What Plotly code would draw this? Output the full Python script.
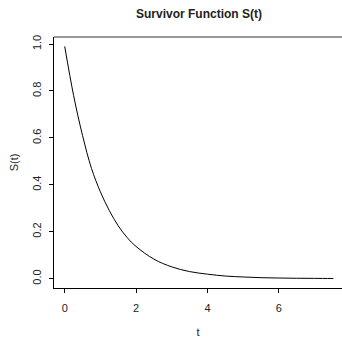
import plotly.graph_objects as go

# Survivor function values S(t) at selected times t
t_vals = [0.0, 0.25, 0.5, 0.75, 1.0, 1.25, 1.5, 1.75, 2.0, 2.5, 3.0, 3.5,
          4.0, 4.5, 5.0, 5.5, 6.0, 6.5, 7.0, 7.53]
s_vals = [0.99, 0.78, 0.61, 0.47, 0.37, 0.29, 0.225, 0.175, 0.137, 0.083, 0.05, 0.03,
          0.019, 0.011, 0.007, 0.004, 0.0025, 0.0015, 0.001, 0.0006]

x_ticks = [0, 2, 4, 6]
y_ticks = [0.0, 0.2, 0.4, 0.6, 0.8, 1.0]

FONT = "Liberation Sans, Arial, sans-serif"

fig = go.Figure()
fig.add_trace(go.Scatter(
    x=t_vals, y=s_vals, mode="lines",
    line=dict(color="black", width=1, shape="spline"),
    hoverinfo="skip", showlegend=False,
))

fig.update_layout(
    width=342, height=338,
    margin=dict(l=54, r=0, t=37, b=47),
    paper_bgcolor="white", plot_bgcolor="white",
    font=dict(family=FONT, size=11, color="#222"),
    title=dict(text="<b>Survivor Function S(t)</b>", x=199 / 342, xref="container",
               xanchor="center", y=1 - 14 / 338, yref="container", yanchor="middle",
               font=dict(size=12, family=FONT, color="#222")),
    xaxis=dict(range=[-0.30, 7.77], tickvals=x_ticks, ticks="outside", ticklen=4,
               tickcolor="black", showline=True, linecolor="black", linewidth=1,
               showgrid=False, zeroline=False, ticklabelstandoff=6,
               title=dict(text="t", standoff=16, font=dict(size=11))),
    yaxis=dict(range=[-0.04, 1.03], tickvals=y_ticks, tickformat=".1f", ticks="outside",
               ticklen=4, tickcolor="black", tickangle=-90, showline=True,
               linecolor="black", linewidth=1, showgrid=False, zeroline=False,
               ticklabelstandoff=4,
               title=dict(text="S(t)", standoff=9, font=dict(size=11))),
    shapes=[dict(type="line", xref="paper", yref="paper", x0=0, x1=1, y0=1, y1=1,
                 line=dict(color="#333", width=1))],
)

fig.write_html("out.html")
